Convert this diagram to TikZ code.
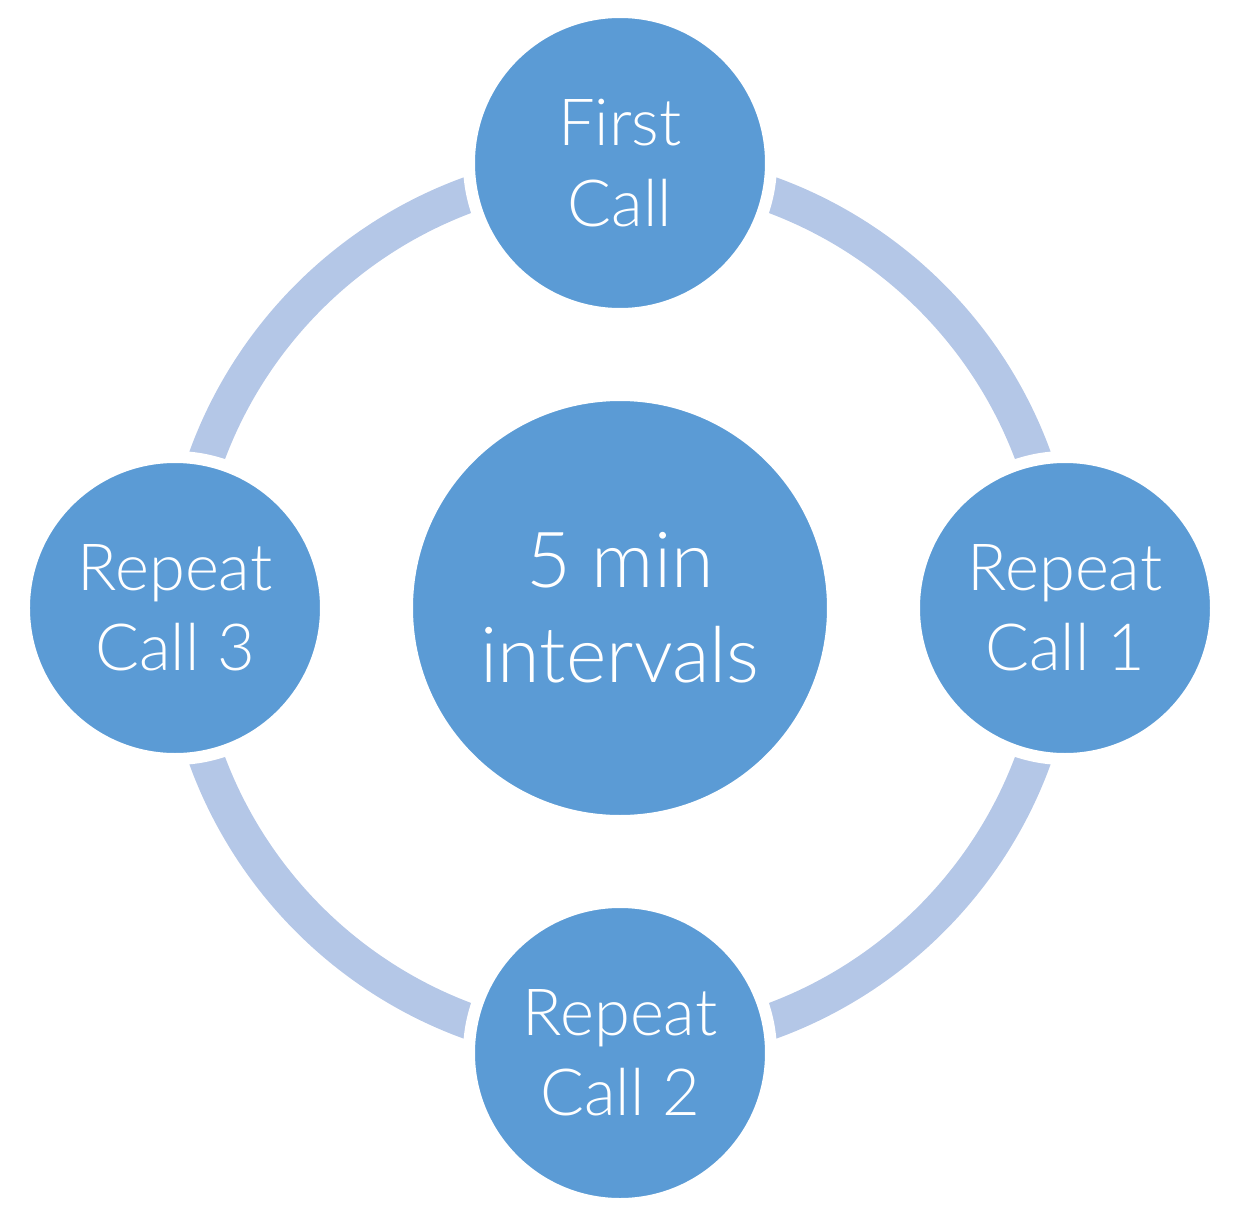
\documentclass[tikz,border=0pt]{standalone}
\usepackage{fontspec}
\setmainfont{Lato}[UprightFont=* Light]
\definecolor{callblue}{RGB}{91,155,213}
\definecolor{ringblue}{RGB}{180,199,231}

\begin{document}
\begin{tikzpicture}[
    call/.style={circle,fill=callblue,draw=white,line width=1.2mm,minimum size=3.02cm,inner sep=0pt,
      align=center,text=white,font=\fontsize{18.5}{22.8}\selectfont},
    hub/.style={call,minimum size=4.26cm,font=\fontsize{22}{27}\selectfont}]
    \useasboundingbox (-6.20,-6.21) rectangle (6.21,6.08); % keeps the frame of the original
    \node[hub] (interval) at (0,0) {5 min\\intervals};
    \draw[ringblue,line width=3.6mm] (interval.center) circle (4.40); % the cycle ring
    \foreach \name/\ang/\txt in {first/90/{First\\Call},rep1/0/{Repeat\\Call 1},
      rep2/-90/{Repeat\\Call 2},rep3/180/{Repeat\\Call 3}}{% one call per quarter
      \node[call] (\name) at (\ang:4.45) {\txt};
    }
\end{tikzpicture}
\end{document}
